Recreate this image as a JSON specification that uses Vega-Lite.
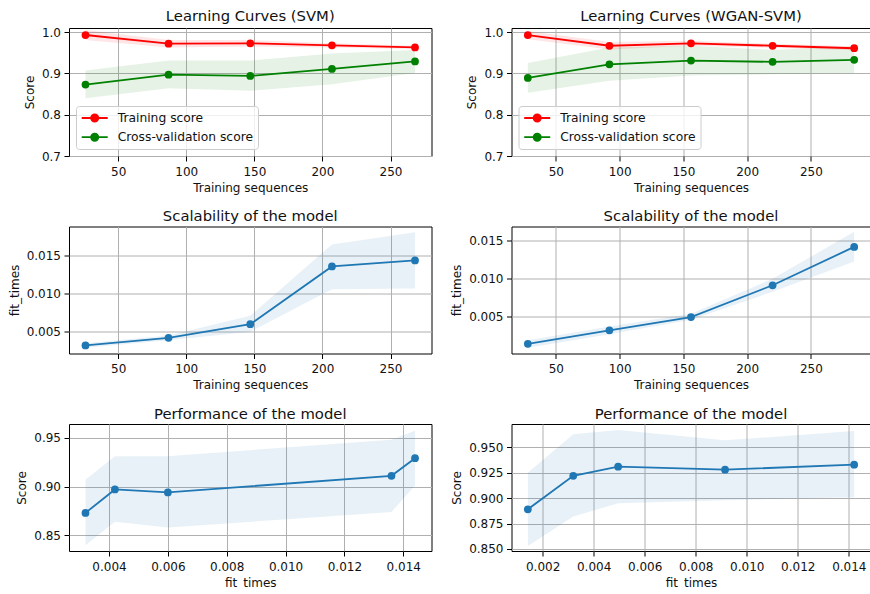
{
  "$schema": "https://vega.github.io/schema/vega-lite/v6.json",
  "padding": {"left": 7, "top": 8, "right": 0, "bottom": 0},
  "background": "white",
  "datasets": {
    "scores": [
      {"model": "SVM", "series": "Training score", "n": 26, "score": 0.993, "lo": 0.981, "hi": 1.005},
      {"model": "SVM", "series": "Training score", "n": 87, "score": 0.972, "lo": 0.963, "hi": 0.981},
      {"model": "SVM", "series": "Training score", "n": 147, "score": 0.973, "lo": 0.965, "hi": 0.981},
      {"model": "SVM", "series": "Training score", "n": 207, "score": 0.968, "lo": 0.963, "hi": 0.973},
      {"model": "SVM", "series": "Training score", "n": 268, "score": 0.963, "lo": 0.959, "hi": 0.967},
      {"model": "SVM", "series": "Cross-validation score", "n": 26, "score": 0.873, "lo": 0.840, "hi": 0.907},
      {"model": "SVM", "series": "Cross-validation score", "n": 87, "score": 0.897, "lo": 0.864, "hi": 0.931},
      {"model": "SVM", "series": "Cross-validation score", "n": 147, "score": 0.894, "lo": 0.858, "hi": 0.931},
      {"model": "SVM", "series": "Cross-validation score", "n": 207, "score": 0.911, "lo": 0.874, "hi": 0.948},
      {"model": "SVM", "series": "Cross-validation score", "n": 268, "score": 0.929, "lo": 0.901, "hi": 0.957},
      {"model": "WGAN-SVM", "series": "Training score", "n": 28, "score": 0.993, "lo": 0.983, "hi": 1.003},
      {"model": "WGAN-SVM", "series": "Training score", "n": 92, "score": 0.967, "lo": 0.958, "hi": 0.976},
      {"model": "WGAN-SVM", "series": "Training score", "n": 156, "score": 0.973, "lo": 0.967, "hi": 0.979},
      {"model": "WGAN-SVM", "series": "Training score", "n": 220, "score": 0.967, "lo": 0.962, "hi": 0.972},
      {"model": "WGAN-SVM", "series": "Training score", "n": 284, "score": 0.961, "lo": 0.956, "hi": 0.966},
      {"model": "WGAN-SVM", "series": "Cross-validation score", "n": 28, "score": 0.889, "lo": 0.853, "hi": 0.925},
      {"model": "WGAN-SVM", "series": "Cross-validation score", "n": 92, "score": 0.922, "lo": 0.882, "hi": 0.963},
      {"model": "WGAN-SVM", "series": "Cross-validation score", "n": 156, "score": 0.931, "lo": 0.895, "hi": 0.967},
      {"model": "WGAN-SVM", "series": "Cross-validation score", "n": 220, "score": 0.928, "lo": 0.898, "hi": 0.957},
      {"model": "WGAN-SVM", "series": "Cross-validation score", "n": 284, "score": 0.933, "lo": 0.901, "hi": 0.966}
    ],
    "fits": [
      {"model": "SVM", "n": 26, "fit": 0.0032, "fit_lo": 0.0029, "fit_hi": 0.0035, "score": 0.873, "lo": 0.840, "hi": 0.907},
      {"model": "SVM", "n": 87, "fit": 0.0042, "fit_lo": 0.0039, "fit_hi": 0.0045, "score": 0.897, "lo": 0.864, "hi": 0.931},
      {"model": "SVM", "n": 147, "fit": 0.0060, "fit_lo": 0.0050, "fit_hi": 0.0071, "score": 0.894, "lo": 0.858, "hi": 0.931},
      {"model": "SVM", "n": 207, "fit": 0.0136, "fit_lo": 0.0106, "fit_hi": 0.0165, "score": 0.911, "lo": 0.874, "hi": 0.948},
      {"model": "SVM", "n": 268, "fit": 0.0144, "fit_lo": 0.0107, "fit_hi": 0.0181, "score": 0.929, "lo": 0.901, "hi": 0.957},
      {"model": "WGAN-SVM", "n": 28, "fit": 0.00142, "fit_lo": 0.0009, "fit_hi": 0.0019, "score": 0.889, "lo": 0.853, "hi": 0.925},
      {"model": "WGAN-SVM", "n": 92, "fit": 0.0032, "fit_lo": 0.0027, "fit_hi": 0.0037, "score": 0.922, "lo": 0.882, "hi": 0.963},
      {"model": "WGAN-SVM", "n": 156, "fit": 0.00496, "fit_lo": 0.0046, "fit_hi": 0.0054, "score": 0.931, "lo": 0.895, "hi": 0.967},
      {"model": "WGAN-SVM", "n": 220, "fit": 0.00915, "fit_lo": 0.0083, "fit_hi": 0.0100, "score": 0.928, "lo": 0.898, "hi": 0.957},
      {"model": "WGAN-SVM", "n": 284, "fit": 0.01421, "fit_lo": 0.0123, "fit_hi": 0.0162, "score": 0.933, "lo": 0.901, "hi": 0.966}
    ]
  },
  "columns": 2,
  "bounds": "flush",
  "spacing": {"row": 70.5, "column": 79.5},
  "resolve": {"scale": {"x": "independent", "y": "independent", "color": "independent"}, "legend": {"color": "independent"}},
  "concat": [
    {
      "width": 362.5, "height": 128,
      "title": "Learning Curves (SVM)",
      "data": {"name": "scores"},
      "transform": [{"filter": "datum.model === 'SVM'"}],
      "layer": [
        {
          "mark": {"type": "area", "fillOpacity": 0.1},
          "encoding": {
            "x": {"field": "n", "type": "quantitative", "scale": {"domain": [13.9, 280.1], "nice": false, "zero": false}, "axis": {"values": [50, 100, 150, 200, 250], "title": "Training sequences"}},
            "y": {"field": "lo", "type": "quantitative", "scale": {"domain": [0.7, 1.01], "nice": false, "zero": false}, "axis": {"values": [0.7, 0.8, 0.9, 1.0], "format": ".1f", "title": "Score"}},
            "y2": {"field": "hi"},
            "color": {"field": "series", "type": "nominal", "scale": {"domain": ["Training score", "Cross-validation score"], "range": ["#ff0000", "#008000"]}}
          }
        },
        {
          "mark": {"type": "line", "strokeWidth": 1.8, "point": {"filled": true, "size": 60}},
          "encoding": {
            "x": {"field": "n", "type": "quantitative", "axis": {"values": [50, 100, 150, 200, 250], "title": "Training sequences"}},
            "y": {"field": "score", "type": "quantitative", "axis": {"values": [0.7, 0.8, 0.9, 1.0], "format": ".1f", "title": "Score"}},
            "color": {"field": "series", "type": "nominal",
              "legend": {"title": null, "orient": "bottom-left", "offset": 7, "symbolType": "M-1,0L3.127,0M0.492,0A0.571,0.571,0,1,0,1.634,0A0.571,0.571,0,1,0,0.492,0Z", "symbolSize": 159, "symbolStrokeWidth": 1.8, "labelFontSize": 12.3, "labelOffset": 22.2, "rowPadding": 4.2, "padding": 4.5, "fillColor": "rgba(255,255,255,0.8)", "strokeColor": "#cccccc", "cornerRadius": 3,
                "encode": {"symbols": {"update": {"fill": {"signal": "datum.value === 'Training score' ? '#ff0000' : '#008000'"}, "stroke": {"signal": "datum.value === 'Training score' ? '#ff0000' : '#008000'"}, "opacity": {"value": 1}, "fillOpacity": {"value": 1}, "strokeOpacity": {"value": 1}}}}}
            }
          }
        }
      ]
    },
    {
      "width": 359, "height": 128,
      "title": "Learning Curves (WGAN-SVM)",
      "data": {"name": "scores"},
      "transform": [{"filter": "datum.model === 'WGAN-SVM'"}],
      "layer": [
        {
          "mark": {"type": "area", "fillOpacity": 0.1},
          "encoding": {
            "x": {"field": "n", "type": "quantitative", "scale": {"domain": [15.2, 296.8], "nice": false, "zero": false}, "axis": {"values": [50, 100, 150, 200, 250], "title": "Training sequences"}},
            "y": {"field": "lo", "type": "quantitative", "scale": {"domain": [0.7, 1.01], "nice": false, "zero": false}, "axis": {"values": [0.7, 0.8, 0.9, 1.0], "format": ".1f", "title": "Score"}},
            "y2": {"field": "hi"},
            "color": {"field": "series", "type": "nominal", "scale": {"domain": ["Training score", "Cross-validation score"], "range": ["#ff0000", "#008000"]}}
          }
        },
        {
          "mark": {"type": "line", "strokeWidth": 1.8, "point": {"filled": true, "size": 60}},
          "encoding": {
            "x": {"field": "n", "type": "quantitative", "axis": {"values": [50, 100, 150, 200, 250], "title": "Training sequences"}},
            "y": {"field": "score", "type": "quantitative", "axis": {"values": [0.7, 0.8, 0.9, 1.0], "format": ".1f", "title": "Score"}},
            "color": {"field": "series", "type": "nominal",
              "legend": {"title": null, "orient": "bottom-left", "offset": 7, "symbolType": "M-1,0L3.127,0M0.492,0A0.571,0.571,0,1,0,1.634,0A0.571,0.571,0,1,0,0.492,0Z", "symbolSize": 159, "symbolStrokeWidth": 1.8, "labelFontSize": 12.3, "labelOffset": 22.2, "rowPadding": 4.2, "padding": 4.5, "fillColor": "rgba(255,255,255,0.8)", "strokeColor": "#cccccc", "cornerRadius": 3,
                "encode": {"symbols": {"update": {"fill": {"signal": "datum.value === 'Training score' ? '#ff0000' : '#008000'"}, "stroke": {"signal": "datum.value === 'Training score' ? '#ff0000' : '#008000'"}, "opacity": {"value": 1}, "fillOpacity": {"value": 1}, "strokeOpacity": {"value": 1}}}}}
            }
          }
        }
      ]
    },
    {
      "width": 362.5, "height": 127,
      "title": "Scalability of the model",
      "data": {"name": "fits"},
      "transform": [{"filter": "datum.model === 'SVM'"}],
      "layer": [
        {
          "mark": {"type": "area", "color": "#1f77b4", "fillOpacity": 0.1},
          "encoding": {
            "x": {"field": "n", "type": "quantitative", "scale": {"domain": [13.9, 280.1], "nice": false, "zero": false}, "axis": {"values": [50, 100, 150, 200, 250], "title": "Training sequences"}},
            "y": {"field": "fit_lo", "type": "quantitative", "scale": {"domain": [0.00214, 0.01886], "nice": false, "zero": false}, "axis": {"values": [0.005, 0.010, 0.015], "format": ".3f", "title": "fit_times"}},
            "y2": {"field": "fit_hi"}
          }
        },
        {
          "mark": {"type": "line", "color": "#1f77b4", "strokeWidth": 1.8, "point": {"filled": true, "size": 60, "color": "#1f77b4"}},
          "encoding": {
            "x": {"field": "n", "type": "quantitative", "axis": {"values": [50, 100, 150, 200, 250], "title": "Training sequences"}},
            "y": {"field": "fit", "type": "quantitative", "axis": {"values": [0.005, 0.010, 0.015], "format": ".3f", "title": "fit_times"}}
          }
        }
      ]
    },
    {
      "width": 359, "height": 127,
      "title": "Scalability of the model",
      "data": {"name": "fits"},
      "transform": [{"filter": "datum.model === 'WGAN-SVM'"}],
      "layer": [
        {
          "mark": {"type": "area", "color": "#1f77b4", "fillOpacity": 0.1},
          "encoding": {
            "x": {"field": "n", "type": "quantitative", "scale": {"domain": [15.2, 296.8], "nice": false, "zero": false}, "axis": {"values": [50, 100, 150, 200, 250], "title": "Training sequences"}},
            "y": {"field": "fit_lo", "type": "quantitative", "scale": {"domain": [0.00015, 0.0169], "nice": false, "zero": false}, "axis": {"values": [0.005, 0.010, 0.015], "format": ".3f", "title": "fit_times"}},
            "y2": {"field": "fit_hi"}
          }
        },
        {
          "mark": {"type": "line", "color": "#1f77b4", "strokeWidth": 1.8, "point": {"filled": true, "size": 60, "color": "#1f77b4"}},
          "encoding": {
            "x": {"field": "n", "type": "quantitative", "axis": {"values": [50, 100, 150, 200, 250], "title": "Training sequences"}},
            "y": {"field": "fit", "type": "quantitative", "axis": {"values": [0.005, 0.010, 0.015], "format": ".3f", "title": "fit_times"}}
          }
        }
      ]
    },
    {
      "width": 362.5, "height": 127,
      "title": "Performance of the model",
      "data": {"name": "fits"},
      "transform": [{"filter": "datum.model === 'SVM'"}],
      "layer": [
        {
          "mark": {"type": "area", "color": "#1f77b4", "fillOpacity": 0.1},
          "encoding": {
            "x": {"field": "fit", "type": "quantitative", "scale": {"domain": [0.00264, 0.01496], "nice": false, "zero": false}, "axis": {"values": [0.004, 0.006, 0.008, 0.010, 0.012, 0.014], "format": ".3f", "title": "fit_times"}},
            "y": {"field": "lo", "type": "quantitative", "scale": {"domain": [0.834, 0.964], "nice": false, "zero": false}, "axis": {"values": [0.85, 0.90, 0.95], "format": ".2f", "title": "Score"}},
            "y2": {"field": "hi"}
          }
        },
        {
          "mark": {"type": "line", "color": "#1f77b4", "strokeWidth": 1.8, "point": {"filled": true, "size": 60, "color": "#1f77b4"}},
          "encoding": {
            "x": {"field": "fit", "type": "quantitative", "axis": {"values": [0.004, 0.006, 0.008, 0.010, 0.012, 0.014], "format": ".3f", "title": "fit_times"}},
            "y": {"field": "score", "type": "quantitative", "axis": {"values": [0.85, 0.90, 0.95], "format": ".2f", "title": "Score"}}
          }
        }
      ]
    },
    {
      "width": 359, "height": 127,
      "title": "Performance of the model",
      "data": {"name": "fits"},
      "transform": [{"filter": "datum.model === 'WGAN-SVM'"}],
      "layer": [
        {
          "mark": {"type": "area", "color": "#1f77b4", "fillOpacity": 0.1},
          "encoding": {
            "x": {"field": "fit", "type": "quantitative", "scale": {"domain": [0.00078, 0.01485], "nice": false, "zero": false}, "axis": {"values": [0.002, 0.004, 0.006, 0.008, 0.010, 0.012, 0.014], "format": ".3f", "title": "fit_times"}},
            "y": {"field": "lo", "type": "quantitative", "scale": {"domain": [0.848, 0.973], "nice": false, "zero": false}, "axis": {"values": [0.850, 0.875, 0.900, 0.925, 0.950], "format": ".3f", "title": "Score"}},
            "y2": {"field": "hi"}
          }
        },
        {
          "mark": {"type": "line", "color": "#1f77b4", "strokeWidth": 1.8, "point": {"filled": true, "size": 60, "color": "#1f77b4"}},
          "encoding": {
            "x": {"field": "fit", "type": "quantitative", "axis": {"values": [0.002, 0.004, 0.006, 0.008, 0.010, 0.012, 0.014], "format": ".3f", "title": "fit_times"}},
            "y": {"field": "score", "type": "quantitative", "axis": {"values": [0.850, 0.875, 0.900, 0.925, 0.950], "format": ".3f", "title": "Score"}}
          }
        }
      ]
    }
  ],
  "config": {
    "font": "DejaVu Sans",
    "view": {"stroke": "#000000", "strokeWidth": 1},
    "title": {"font": "DejaVu Sans", "fontSize": 14.8, "fontWeight": "normal", "color": "#111111", "offset": 2.5, "baseline": "alphabetic", "frame": "group", "anchor": "middle"},
    "axis": {
      "domain": false,
      "grid": true,
      "gridColor": "#b0b0b0",
      "gridWidth": 1,
      "tickColor": "#000000",
      "tickSize": 5,
      "tickWidth": 1,
      "labelFont": "DejaVu Sans",
      "labelFontSize": 12,
      "labelColor": "#111111",
      "labelPadding": 3.5,
      "labelFlush": false,
      "labelOverlap": false,
      "titleFont": "DejaVu Sans",
      "titleFontSize": 12,
      "titleFontWeight": "normal",
      "titleColor": "#111111"
    },
    "axisX": {"labelPadding": 5, "titlePadding": 5},
    "axisY": {"titlePadding": 5},
    "legend": {"labelFont": "DejaVu Sans", "labelColor": "#111111"}
  }
}
